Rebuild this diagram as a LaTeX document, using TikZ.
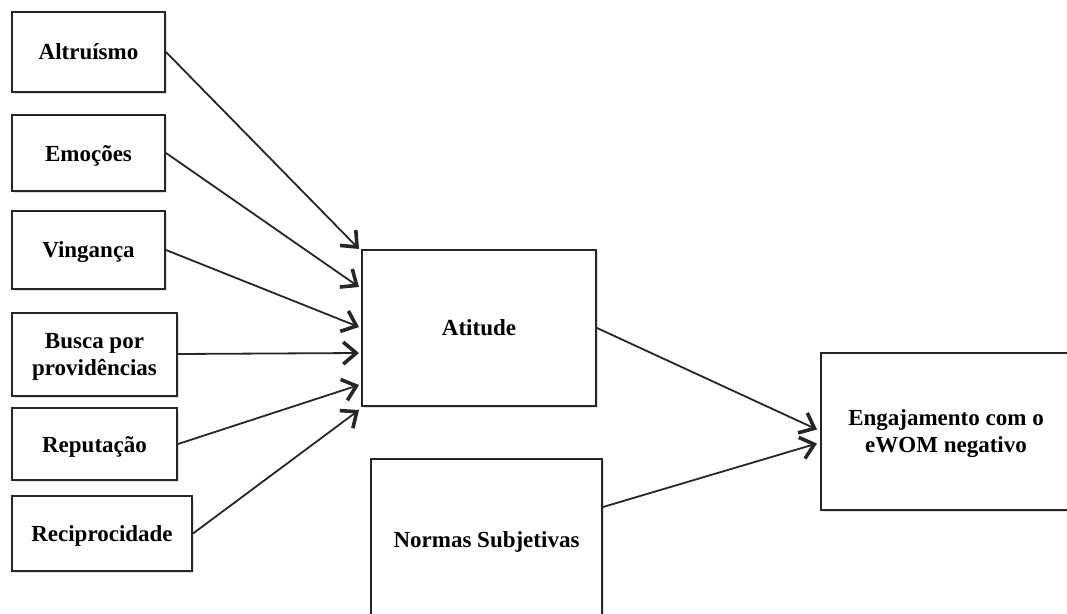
\documentclass[tikz,border=0pt]{standalone}
\usepackage{fontspec}
\setmainfont{Liberation Serif}
\usetikzlibrary{arrows.meta,shadows}
\begin{document}
\begin{tikzpicture}[x=1pt,y=-1pt,
  box/.style={draw=black!85, line width=2pt, fill=white, align=center,
    font=\fontsize{23}{27}\selectfont\bfseries, inner sep=0pt, text depth=0pt,
    drop shadow={shadow xshift=1.5pt, shadow yshift=-2pt, opacity=0.12, fill=black}},
  link/.style={draw=black!85, line width=1.8pt,
    -{Straight Barb[length=13pt,width=22pt,line width=3.6pt]}}]
\useasboundingbox (0,0) rectangle (1067,613);
\clip (0,0) rectangle (1067,613);

% factor boxes on the left
\node[box, minimum width=153pt, minimum height=80pt] (alt)  at (88.5,52)  {Altruísmo};
\node[box, minimum width=153pt, minimum height=76pt] (emo)  at (88.5,153) {Emoções};
\node[box, minimum width=153pt, minimum height=78pt] (ving) at (88.5,250) {Vingança};
\node[box, minimum width=165pt, minimum height=83pt] (busca) at (94.5,354) {Busca por\\providências};
\node[box, minimum width=165pt, minimum height=72pt] (rep)  at (94.5,444) {Reputação};
\node[box, minimum width=180pt, minimum height=75pt] (rec)  at (102,533.5) {Reciprocidade};

% central constructs
\node[box, minimum width=234pt, minimum height=156pt] (ati) at (479,328) {Atitude};
\node[box, minimum width=231pt, minimum height=162pt] (norm) at (486.5,540) {Normas Subjetivas};
\node[box, minimum width=250pt, minimum height=157pt] (eng) at (946,431.5) {Engajamento com o\\eWOM negativo};

% influences on attitude
\draw[link] (alt.east)   -- ([xshift=-2pt]ati.north west);
\draw[link] (emo.east)   -- ([xshift=-2pt,yshift=41pt]ati.west);
\draw[link] (ving.east)  -- ([xshift=-2pt,yshift=1pt]ati.west);
\draw[link] (busca.east) -- ([xshift=-2pt,yshift=-25pt]ati.west);
\draw[link] (rep.east)   -- ([xshift=-2pt,yshift=-57pt]ati.west);
\draw[link] (rec.east)   -- ([xshift=-2pt,yshift=-82pt]ati.west);

% paths to engagement
\draw[link] (ati.east) -- ([xshift=-3pt,yshift=2pt]eng.west);
\draw[link] ([yshift=33pt]norm.east) -- ([xshift=-3pt,yshift=-12pt]eng.west);
\end{tikzpicture}
\end{document}
